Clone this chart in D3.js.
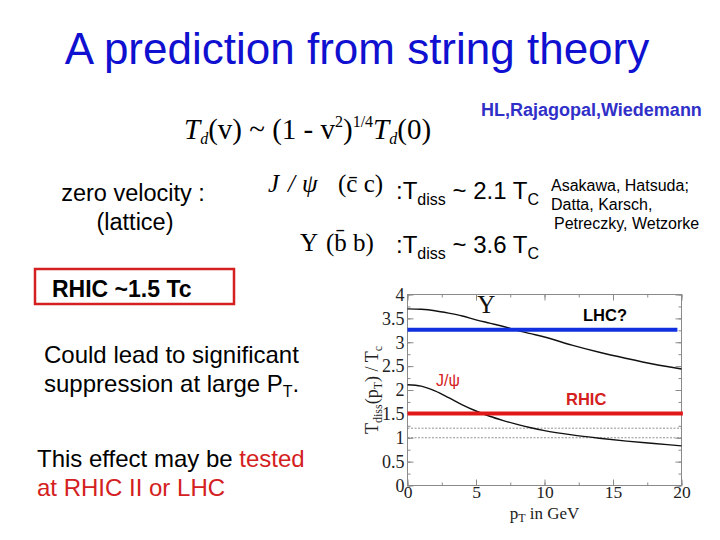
<!DOCTYPE html>
<html>
<head>
<meta charset="utf-8">
<script src="https://cdn.jsdelivr.net/npm/d3@7"></script>
<style>
  body { margin: 0; background: #fff; }
  svg { display: block; }
</style>
</head>
<body>
<div class="canvas"></div>
<script>
// data
const pT = [0, 1, 2, 3, 4, 5, 6, 7, 8, 9, 10, 12, 14, 16, 18, 20];
const upsilon = [3.70, 3.69, 3.66, 3.61, 3.55, 3.47, 3.40, 3.33, 3.25, 3.18, 3.11, 2.94, 2.79, 2.66, 2.54, 2.44];
const jpsi = [2.11, 2.08, 1.98, 1.84, 1.69, 1.56, 1.45, 1.36, 1.28, 1.21, 1.15, 1.06, 0.99, 0.93, 0.88, 0.83];
const lhcLevel = 3.26;
const rhicLevel = 1.51;
const dashedLevels = [1.2, 1.0];
const xTicks = [0, 5, 10, 15, 20];
const yTicks = [0, 0.5, 1, 1.5, 2, 2.5, 3, 3.5, 4];

const dimensions = { width: 720, height: 540 };
const sans = '"Liberation Sans", Arial, sans-serif';
const serif = '"Liberation Serif", "Times New Roman", serif';

const svg = d3.select('.canvas')
    .append('svg')
    .attr('width', dimensions.width)
    .attr('height', dimensions.height);

// slide text
const addText = (x, y, size, txt, opts = {}) => svg.append('text')
    .attr('x', x).attr('y', y)
    .attr('font-family', opts.family || sans)
    .attr('font-size', size)
    .attr('font-weight', opts.weight || 'normal')
    .attr('font-style', opts.style || 'normal')
    .attr('fill', opts.fill || '#000')
    .attr('text-anchor', opts.anchor || 'start')
    .text(txt);

addText(357, 64, 44, 'A prediction from string theory', { fill: '#1010d0', anchor: 'middle' });
addText(481, 116, 18, 'HL,Rajagopal,Wiedemann', { fill: '#3030c8', weight: 'bold' });

// formula
const f = svg.append('text').attr('x', 184).attr('y', 139)
    .attr('font-family', serif).attr('font-size', 29);
f.append('tspan').attr('font-style', 'italic').text('T');
f.append('tspan').attr('font-style', 'italic').attr('font-size', 16).attr('dy', 5).text('d');
f.append('tspan').attr('dy', -5).text('(v) ~ (1 - v');
f.append('tspan').attr('font-size', 16).attr('dy', -12).text('2');
f.append('tspan').attr('dy', 12).text(')');
f.append('tspan').attr('font-size', 16).attr('dy', -12).text('1/4');
f.append('tspan').attr('font-style', 'italic').attr('dy', 12).text('T');
f.append('tspan').attr('font-style', 'italic').attr('font-size', 16).attr('dy', 5).text('d');
f.append('tspan').attr('dy', -5).text('(0)');

addText(133, 201, 23.5, 'zero velocity :', { anchor: 'middle' });
addText(135, 230, 23.5, '(lattice)', { anchor: 'middle' });

const j = svg.append('text').attr('y', 192)
    .attr('font-family', serif).attr('font-size', 25);
j.append('tspan').attr('x', 268).attr('font-style', 'italic').text('J');
j.append('tspan').attr('x', 288).attr('font-style', 'italic').text('/');
j.append('tspan').attr('x', 302).attr('font-style', 'italic').text('ψ');
j.append('tspan').attr('x', 338).text('(c̄ c)');

const u = svg.append('text').attr('y', 251)
    .attr('font-family', serif).attr('font-size', 25);
u.append('tspan').attr('x', 300).text('Υ');
u.append('tspan').attr('x', 326).text('(b̄ b)');

const tdiss = (x, y, val) => {
    const t = svg.append('text').attr('x', x).attr('y', y)
        .attr('font-family', sans).attr('font-size', 24);
    t.append('tspan').text(':T');
    t.append('tspan').attr('font-size', 16).attr('dy', 6).text('diss');
    t.append('tspan').attr('dy', -6).text(' ~ ' + val + ' T');
    t.append('tspan').attr('font-size', 16).attr('dy', 6).text('C');
};
tdiss(396, 199, '2.1');
tdiss(396, 253, '3.6');

addText(551, 191, 16, 'Asakawa, Hatsuda;');
addText(551, 210, 16, 'Datta,  Karsch,');
addText(554, 229, 16, 'Petreczky, Wetzorke');

svg.append('rect')
    .attr('x', 35).attr('y', 269).attr('width', 199).attr('height', 35)
    .attr('fill', 'none').attr('stroke', '#d42020').attr('stroke-width', 2.5);
addText(52, 297, 23, 'RHIC ~1.5 Tc', { weight: 'bold' });

addText(44, 363, 24, 'Could lead to significant');
const s = addText(44, 392, 24, 'suppression at large P');
s.append('tspan').attr('font-size', 16).attr('dy', 5).text('T');
s.append('tspan').attr('dy', -5).text('.');

const t1 = addText(37, 467, 24, 'This effect may be ');
t1.append('tspan').attr('fill', '#d42020').text('tested');
addText(37, 496, 24, 'at  RHIC II or LHC', { fill: '#d42020' });

// chart
const x = d3.scaleLinear().domain([0, 20]).range([407.5, 681.5]);
const y = d3.scaleLinear().domain([0, 4]).range([485.5, 294.5]);
const graph = svg.append('g');

const frameColour = '#8a8a8a';
graph.append('rect')
    .attr('x', x(0)).attr('y', y(4))
    .attr('width', x(20) - x(0)).attr('height', y(0) - y(4))
    .attr('fill', 'none').attr('stroke', frameColour).attr('stroke-width', 1);

const tickLines = (axis, scale, values, len) => {
    graph.append('g').attr('transform', axis.t)
        .call(axis.fn(scale).tickValues(values).tickSize(len).tickFormat(''))
        .call(g => g.select('.domain').remove())
        .call(g => g.selectAll('line').attr('stroke', frameColour));
};
const xMinor = d3.range(0, 20.01, 2.5);
const yMinor = d3.range(0, 4.01, 0.25);
tickLines({ t: `translate(0,${y(0)})`, fn: d3.axisBottom }, x, xMinor, -3);
tickLines({ t: `translate(0,${y(0)})`, fn: d3.axisBottom }, x, xTicks, -6);
tickLines({ t: `translate(0,${y(4)})`, fn: d3.axisTop }, x, xMinor, -3);
tickLines({ t: `translate(0,${y(4)})`, fn: d3.axisTop }, x, xTicks, -6);
tickLines({ t: `translate(${x(0)},0)`, fn: d3.axisLeft }, y, yMinor, -3);
tickLines({ t: `translate(${x(0)},0)`, fn: d3.axisLeft }, y, yTicks, -6);
tickLines({ t: `translate(${x(20)},0)`, fn: d3.axisRight }, y, yMinor, -3);
tickLines({ t: `translate(${x(20)},0)`, fn: d3.axisRight }, y, yTicks, -6);

// tick labels
graph.append('g').attr('transform', `translate(0,${y(0)})`)
    .call(d3.axisBottom(x).tickValues(xTicks).tickSize(0).tickPadding(0))
    .call(g => g.select('.domain').remove())
    .call(g => g.selectAll('text').attr('font-family', serif).attr('font-size', 17.5).attr('fill', '#222'));
graph.append('g').attr('transform', `translate(${x(0)},0)`)
    .call(d3.axisLeft(y).tickValues(yTicks).tickSize(0).tickPadding(3).tickFormat(d3.format('')))
    .call(g => g.select('.domain').remove())
    .call(g => g.selectAll('text').attr('font-family', serif).attr('font-size', 18).attr('fill', '#222'));

// axis titles
const yl = graph.append('text')
    .attr('transform', `translate(378,${y(2)}) rotate(-90)`)
    .attr('text-anchor', 'middle')
    .attr('font-family', serif).attr('font-size', 18).attr('fill', '#222');
yl.append('tspan').text('T');
yl.append('tspan').attr('font-size', 12).attr('dy', 4).text('diss');
yl.append('tspan').attr('dy', -4).text('(p');
yl.append('tspan').attr('font-size', 12).attr('dy', 4).text('T');
yl.append('tspan').attr('dy', -4).text(') / T');
yl.append('tspan').attr('font-size', 12).attr('dy', 4).text('c');

const xl = graph.append('text')
    .attr('x', x(10)).attr('y', 519)
    .attr('text-anchor', 'middle')
    .attr('font-family', serif).attr('font-size', 17).attr('fill', '#222');
xl.append('tspan').text('p');
xl.append('tspan').attr('font-size', 12).attr('dy', 3).text('T');
xl.append('tspan').attr('dy', -3).text(' in GeV');

// dashed reference levels
graph.selectAll('.dash')
    .data(dashedLevels)
    .enter().append('line')
    .attr('x1', x(0)).attr('x2', x(20))
    .attr('y1', d => y(d)).attr('y2', d => y(d))
    .attr('stroke', '#777').attr('stroke-width', 0.8)
    .attr('stroke-dasharray', '2,1.5');

// curves
const line = d3.line()
    .x(d => x(d[0]))
    .y(d => y(d[1]))
    .curve(d3.curveMonotoneX);
[upsilon, jpsi].forEach(series => {
    graph.append('path')
        .datum(pT.map((p, i) => [p, series[i]]))
        .attr('fill', 'none')
        .attr('stroke', '#111')
        .attr('stroke-width', 1.4)
        .attr('d', line);
});

// LHC / RHIC levels
graph.append('line')
    .attr('x1', x(0)).attr('x2', x(19.7))
    .attr('y1', y(lhcLevel)).attr('y2', y(lhcLevel))
    .attr('stroke', '#1030e0').attr('stroke-width', 4);
graph.append('line')
    .attr('x1', x(0)).attr('x2', x(20.1))
    .attr('y1', y(rhicLevel)).attr('y2', y(rhicLevel))
    .attr('stroke', '#e01818').attr('stroke-width', 4);

// in-plot labels
graph.append('text').attr('x', x(5.1)).attr('y', 313)
    .attr('font-family', serif).attr('font-size', 25).attr('fill', '#111').text('Υ');
addText(583, 321, 16.5, 'LHC?', { weight: 'bold' });
addText(436, 386, 16, 'J/ψ', { fill: '#d42020' });
addText(566, 405, 16.5, 'RHIC', { fill: '#d42020', weight: 'bold' });
</script>
</body>
</html>
